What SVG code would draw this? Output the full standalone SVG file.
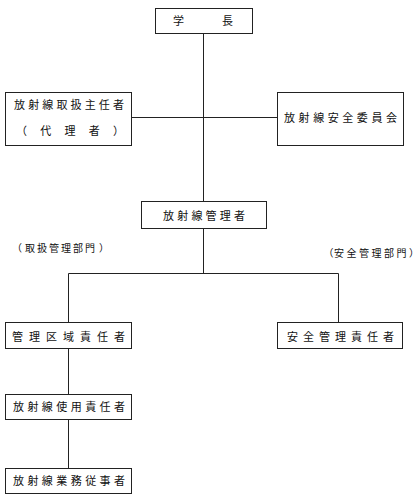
<svg xmlns="http://www.w3.org/2000/svg" width="419" height="501" viewBox="0 0 419 501">
<style>
.box{fill:#fff;stroke:#222;stroke-width:1}
.ln{fill:none;stroke:#222;stroke-width:1}
text{font-family:"Noto Sans CJK JP","Noto Sans CJK SC",sans-serif;font-size:11px;fill:#111}
.lbl{font-size:10px}
</style>
<rect width="419" height="501" fill="#fff"/>
<g id="connectors">
<path class="ln" d="M203.5 33V201M131 117.5H277M203.5 228V273.5M68.5 273.5H338.5M68.5 273.5V322M338.5 273.5V322M68.5 349V394M68.5 419V468"/>
</g>
<g id="n-gakucho"><rect class="box" x="155.5" y="8.5" width="97" height="25"/>
<text x="173" y="25">学</text><text x="222" y="25">長</text></g>
<g id="n-shunin"><rect class="box" x="5.5" y="92.5" width="126" height="53"/>
<text x="14" y="109" textLength="110" lengthAdjust="spacing">放射線取扱主任者</text>
<text x="16" y="135" textLength="108" lengthAdjust="spacing">（代理者）</text></g>
<g id="n-iinkai"><rect class="box" x="277.5" y="92.5" width="126" height="53"/>
<text x="284" y="122" textLength="113" lengthAdjust="spacing">放射線安全委員会</text></g>
<g id="n-kanrisha"><rect class="box" x="141.5" y="201.5" width="125" height="27"/>
<text x="163" y="220" textLength="82" lengthAdjust="spacing">放射線管理者</text></g>
<g id="l-toriatsukai"><text class="lbl" x="12 25 37 49 61 73 85 99" y="252">（取扱管理部門）</text></g>
<g id="l-anzen"><text class="lbl" x="323.5 334 346.5 359 371.5 384 396.5 409" y="257">（安全管理部門）</text></g>
<g id="n-kuiki"><rect class="box" x="5.5" y="322.5" width="126" height="26"/>
<text x="12" y="341" textLength="113" lengthAdjust="spacing">管理区域責任者</text></g>
<g id="n-anzensekinin"><rect class="box" x="277.5" y="322.5" width="125" height="26"/>
<text x="287" y="341" textLength="107" lengthAdjust="spacing">安全管理責任者</text></g>
<g id="n-shiyo"><rect class="box" x="5.5" y="394.5" width="126" height="25"/>
<text x="13" y="411" textLength="112" lengthAdjust="spacing">放射線使用責任者</text></g>
<g id="n-jujisha"><rect class="box" x="5.5" y="468.5" width="126" height="25"/>
<text x="13" y="485" textLength="112" lengthAdjust="spacing">放射線業務従事者</text></g>
</svg>
